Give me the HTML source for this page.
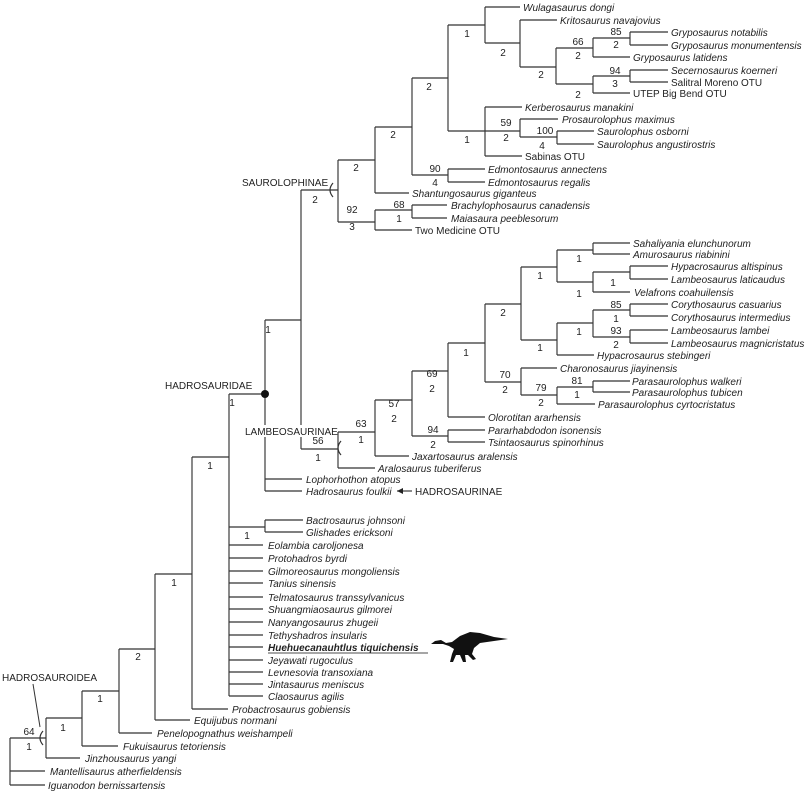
<!DOCTYPE html>
<html><head><meta charset="utf-8"><style>
html,body{margin:0;padding:0;background:#fff;}
svg{display:block;}
text{font-family:"Liberation Sans",sans-serif;font-size:10px;fill:#222;}
.i{font-style:italic;}
.n{font-size:10px;fill:#333;}
</style></head><body>
<svg width="809" height="794" viewBox="0 0 809 794" xmlns="http://www.w3.org/2000/svg">
<g fill="none" stroke="#333" stroke-width="1.15">
<path d="M10 738V785M10 771H45M10 785H45M10 738H46"/>
<path d="M46 718V758M46 758H80M46 718H82"/>
<path d="M82 691V746M82 746H118M82 691H119"/>
<path d="M119 649V733M119 733H152M119 649H155"/>
<path d="M155 574V720M155 720H190M155 574H192"/>
<path d="M192 457V709M192 709H228M192 457H229"/>
<path d="M229 394V696M229 394H265"/>
<path d="M229 527H265M265 520V532M265 520H303M265 532H303"/>
<path d="M229 545H263M229 558H263M229 571H263M229 583H263M229 597H263M229 609H263M229 622H263M229 635H263M229 647H263M229 660H263M229 672H263M229 684H263M229 696H263"/>
<path d="M265 320V491M265 479H302M265 491H302M265 320H301"/>
<path d="M397 491H412"/>
<path d="M301 190V449M301 449H338"/>
<path d="M338 432V468M338 468H375M338 432H375"/>
<path d="M375 400V456M375 456H409M375 400H412"/>
<path d="M412 371V436M412 436H448M448 430V442M448 430H485M448 442H485M412 371H448"/>
<path d="M448 343V417M448 417H485M448 343H485"/>
<path d="M485 304V382M485 382H521M485 304H521"/>
<path d="M521 368V395M521 368H557M521 395H557M557 387V404M557 404H595M557 387H593M593 381V392M593 381H630M593 392H630"/>
<path d="M521 267V340M521 267H557M521 340H557"/>
<path d="M557 250V282M557 250H593M557 282H593M593 243V254M593 243H630M593 254H630"/>
<path d="M593 272V292M593 292H630M593 272H630M630 266V279M630 266H668M630 279H668"/>
<path d="M557 323V355M557 355H594M557 323H593M593 310V337M593 310H630M593 337H630M630 304V316M630 304H668M630 316H668M630 330V343M630 330H668M630 343H668"/>
<path d="M301 190H338M338 160V222M338 160H375M338 222H375"/>
<path d="M375 210V230M375 230H412M375 210H412M412 205V218M412 205H447M412 218H447"/>
<path d="M375 127V193M375 193H409M375 127H412"/>
<path d="M412 78V175M412 175H448M448 169V182M448 169H485M448 182H485M412 78H448"/>
<path d="M448 25V131M448 25H485M448 131H485"/>
<path d="M485 7V43M485 7H520M485 43H520M520 20V67M520 20H557M520 67H556"/>
<path d="M556 48V84M556 48H593M556 84H593M593 38V57M593 57H630M593 38H630M630 32V45M630 32H668M630 45H668"/>
<path d="M593 76V93M593 93H630M593 76H630M630 70V82M630 70H668M630 82H668"/>
<path d="M485 107V156M485 107H522M485 156H522M485 131H520M520 119V137M520 119H558M520 137H557M557 131V144M557 131H594M557 144H594"/>
<path d="M33 684L40 727" stroke-width="1"/>
<path d="M43 731Q37 738 43 745" stroke-width="1.2"/>
<path d="M333 183Q327 190 333 197" stroke-width="1.2"/>
<path d="M341 441Q335 448 341 455" stroke-width="1.2"/>
<path d="M268 653H428" stroke="#888" stroke-width="1.5"/>
</g>
<circle cx="265" cy="394" r="4" fill="#111"/>
<path d="M397 491l6-3v6z" fill="#222"/>
<path d="M431 644l4-3 6-1 5 3 6-1 8-6 10-4 10 1 14 4 14 2-14 2-14 2-6 5-2 6 4 5-3 1-5-5-3 0 1 7-3 0-3-7-4 0-3 7-3 0 2-8 2-5-5-3-6-2-5 0z" fill="#111"/>
<rect x="243" y="425" width="92" height="12" fill="#fff"/>
<g>
<text x="2" y="681">HADROSAUROIDEA</text>
<text x="165" y="389">HADROSAURIDAE</text>
<text x="245" y="435">LAMBEOSAURINAE</text>
<text x="242" y="186">SAUROLOPHINAE</text>
<text x="415" y="495">HADROSAURINAE</text>
</g>
<g class="i">
<text x="48" y="789">Iguanodon bernissartensis</text>
<text x="50" y="775">Mantellisaurus atherfieldensis</text>
<text x="85" y="762">Jinzhousaurus yangi</text>
<text x="123" y="750">Fukuisaurus tetoriensis</text>
<text x="157" y="737">Penelopognathus weishampeli</text>
<text x="194" y="724">Equijubus normani</text>
<text x="232" y="713">Probactrosaurus gobiensis</text>
<text x="306" y="524">Bactrosaurus johnsoni</text>
<text x="306" y="536">Glishades ericksoni</text>
<text x="268" y="549">Eolambia caroljonesa</text>
<text x="268" y="562">Protohadros byrdi</text>
<text x="268" y="575">Gilmoreosaurus mongoliensis</text>
<text x="268" y="587">Tanius sinensis</text>
<text x="268" y="601">Telmatosaurus transsylvanicus</text>
<text x="268" y="613">Shuangmiaosaurus gilmorei</text>
<text x="268" y="626">Nanyangosaurus zhugeii</text>
<text x="268" y="639">Tethyshadros insularis</text>
<text x="268" y="651" font-weight="bold">Huehuecanauhtlus tiquichensis</text>
<text x="268" y="664">Jeyawati rugoculus</text>
<text x="268" y="676">Levnesovia transoxiana</text>
<text x="268" y="688">Jintasaurus meniscus</text>
<text x="268" y="700">Claosaurus agilis</text>
<text x="306" y="483">Lophorhothon atopus</text>
<text x="306" y="495">Hadrosaurus foulkii</text>
<text x="378" y="472">Aralosaurus tuberiferus</text>
<text x="412" y="460">Jaxartosaurus aralensis</text>
<text x="488" y="434">Pararhabdodon isonensis</text>
<text x="488" y="446">Tsintaosaurus spinorhinus</text>
<text x="488" y="421">Olorotitan ararhensis</text>
<text x="560" y="372">Charonosaurus jiayinensis</text>
<text x="632" y="385">Parasaurolophus walkeri</text>
<text x="632" y="396">Parasaurolophus tubicen</text>
<text x="598" y="408">Parasaurolophus cyrtocristatus</text>
<text x="633" y="247">Sahaliyania elunchunorum</text>
<text x="633" y="258">Amurosaurus riabinini</text>
<text x="671" y="270">Hypacrosaurus altispinus</text>
<text x="671" y="283">Lambeosaurus laticaudus</text>
<text x="634" y="296">Velafrons coahuilensis</text>
<text x="671" y="308">Corythosaurus casuarius</text>
<text x="671" y="321">Corythosaurus intermedius</text>
<text x="671" y="334">Lambeosaurus lambei</text>
<text x="671" y="347">Lambeosaurus magnicristatus</text>
<text x="597" y="359">Hypacrosaurus stebingeri</text>
<text x="523" y="11">Wulagasaurus dongi</text>
<text x="560" y="24">Kritosaurus navajovius</text>
<text x="671" y="36">Gryposaurus notabilis</text>
<text x="671" y="49">Gryposaurus monumentensis</text>
<text x="633" y="61">Gryposaurus latidens</text>
<text x="671" y="74">Secernosaurus koerneri</text>
<text x="525" y="111">Kerberosaurus manakini</text>
<text x="562" y="123">Prosaurolophus maximus</text>
<text x="597" y="135">Saurolophus osborni</text>
<text x="597" y="148">Saurolophus angustirostris</text>
<text x="488" y="173">Edmontosaurus annectens</text>
<text x="488" y="186">Edmontosaurus regalis</text>
<text x="412" y="197">Shantungosaurus giganteus</text>
<text x="451" y="209">Brachylophosaurus canadensis</text>
<text x="451" y="222">Maiasaura peeblesorum</text>
</g>
<g>
<text x="671" y="86">Salitral Moreno OTU</text>
<text x="633" y="97">UTEP Big Bend OTU</text>
<text x="525" y="160">Sabinas OTU</text>
<text x="415" y="234">Two Medicine OTU</text>
</g>
<g class="n" text-anchor="middle">
<text x="29" y="735">64</text><text x="29" y="750">1</text>
<text x="63" y="731">1</text><text x="100" y="702">1</text><text x="138" y="660">2</text>
<text x="174" y="586">1</text><text x="210" y="469">1</text><text x="232" y="406">1</text>
<text x="247" y="539">1</text><text x="268" y="333">1</text>
<text x="318" y="444">56</text><text x="318" y="461">1</text>
<text x="361" y="427">63</text><text x="361" y="443">1</text>
<text x="394" y="407">57</text><text x="394" y="422">2</text>
<text x="432" y="377">69</text><text x="432" y="392">2</text>
<text x="433" y="433">94</text><text x="433" y="448">2</text>
<text x="466" y="356">1</text><text x="503" y="316">2</text>
<text x="505" y="378">70</text><text x="505" y="393">2</text>
<text x="541" y="391">79</text><text x="541" y="406">2</text>
<text x="577" y="384">81</text><text x="577" y="398">1</text>
<text x="540" y="279">1</text><text x="579" y="262">1</text><text x="579" y="297">1</text><text x="613" y="286">1</text>
<text x="616" y="308">85</text><text x="616" y="322">1</text><text x="616" y="334">93</text><text x="616" y="348">2</text>
<text x="579" y="335">1</text><text x="540" y="351">1</text>
<text x="315" y="203">2</text>
<text x="356" y="171">2</text><text x="393" y="138">2</text><text x="429" y="90">2</text>
<text x="352" y="213">92</text><text x="352" y="230">3</text>
<text x="399" y="208">68</text><text x="399" y="222">1</text>
<text x="435" y="172">90</text><text x="435" y="186">4</text>
<text x="467" y="37">1</text><text x="503" y="56">2</text><text x="541" y="78">2</text>
<text x="578" y="45">66</text><text x="578" y="59">2</text>
<text x="616" y="35">85</text><text x="616" y="48">2</text>
<text x="615" y="74">94</text><text x="615" y="87">3</text><text x="578" y="98">2</text>
<text x="467" y="143">1</text>
<text x="506" y="126">59</text><text x="506" y="141">2</text>
<text x="545" y="134">100</text><text x="542" y="149">4</text>
</g>
</svg>
</body></html>
